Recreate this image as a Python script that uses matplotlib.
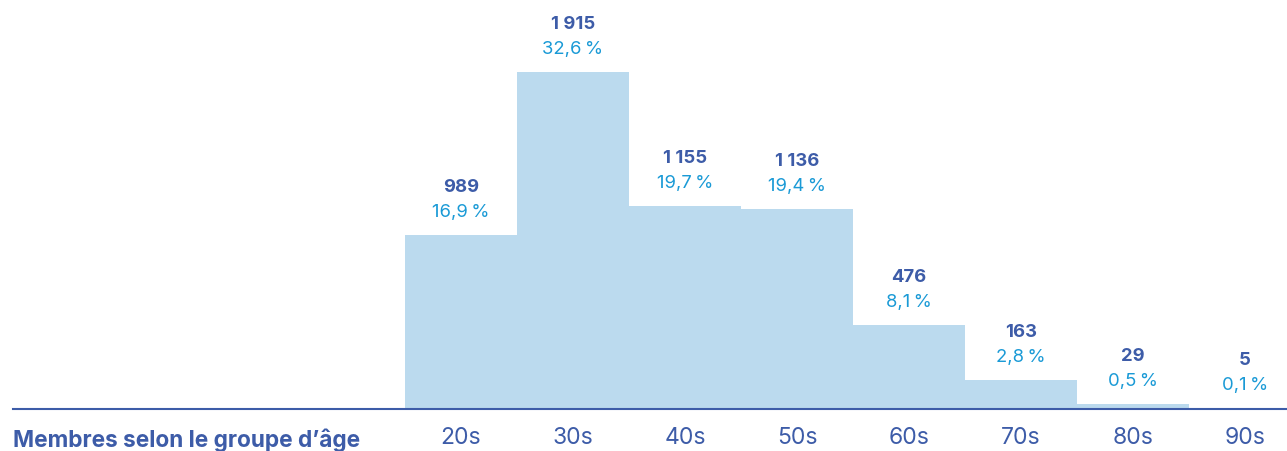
import matplotlib.pyplot as plt

# Data
groups = ['20s', '30s', '40s', '50s', '60s', '70s', '80s', '90s']
members = [989, 1915, 1155, 1136, 476, 163, 29, 5]
shares = [16.9, 32.6, 19.7, 19.4, 8.1, 2.8, 0.5, 0.1]

dark_blue = '#3d5ca8'
light_blue = '#1a9ad6'
bar_color = '#bbdaee'

plt.rcParams['font.family'] = ['Inter', 'DejaVu Sans']

fig = plt.figure(figsize=(12.87, 4.51), dpi=100)
ax = fig.add_axes([13 / 1287, 1 - 409 / 451, (1287 - 13) / 1287, 409 / 451])

x = list(range(len(groups)))
ax.bar(x, members, width=1.0, color=bar_color, linewidth=0)

ax.set_xlim(-4.0, 7.375)
ax.set_ylim(0, 409 * 1915 / 337)

def fr_int(v):
    return f'{v:,}'.replace(',', ' ')

for xi, m, s in zip(x, members, shares):
    ax.annotate(f'{s:.1f}'.replace('.', ',') + '\u2009%', (xi, m), xytext=(0, 13),
                textcoords='offset points', ha='center', va='baseline',
                fontsize=13.3, color=light_blue)
    ax.annotate(fr_int(m), (xi, m), xytext=(0, 31), textcoords='offset points',
                ha='center', va='baseline', fontsize=13.3, fontweight='bold',
                color=dark_blue)

for side in ['top', 'left', 'right']:
    ax.spines[side].set_visible(False)
ax.spines['bottom'].set_color(dark_blue)
ax.spines['bottom'].set_linewidth(1.5)
ax.set_yticks([])
ax.set_xticks(x)
ax.set_xticklabels(groups, fontsize=16.5, color=dark_blue)
ax.tick_params(axis='x', length=0, pad=13)

fig.text(13 / 1287, 1 - 440 / 451, "Membres selon le groupe d\u2019âge", ha='left',
         va='center', fontsize=16.3, fontweight='bold', color=dark_blue)

fig.savefig('out.png', dpi=100)
